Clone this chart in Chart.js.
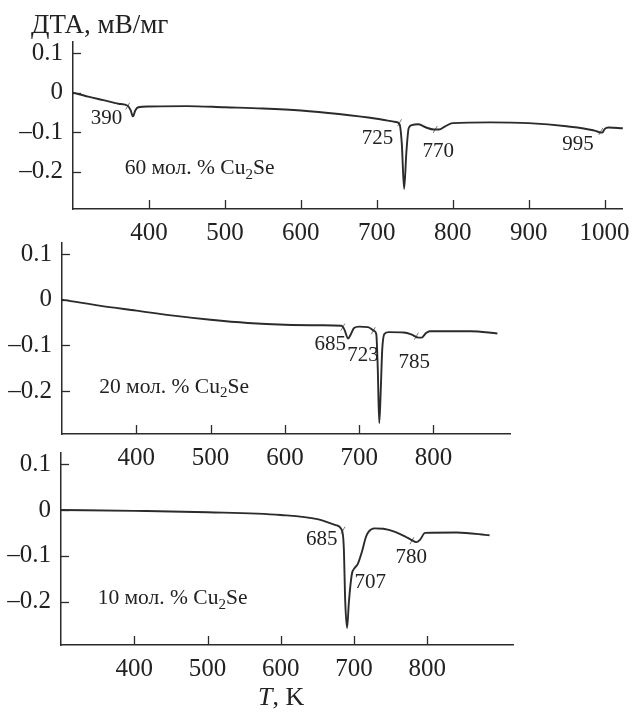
<!DOCTYPE html>
<html>
<head>
<meta charset="utf-8">
<script src="https://cdn.jsdelivr.net/npm/chart.js@4/dist/chart.umd.min.js"></script>
<style>
  body { margin: 0; background: #fff; }
  #wrap { position: relative; width: 639px; height: 712px; font-family: "Liberation Serif", serif; color: #222; }
  canvas { position: absolute; left: 0; top: 0; }
  .lbl { position: absolute; line-height: 1; white-space: nowrap; }
</style>
</head>
<body>
<div id="wrap">
  <canvas id="c1" width="639" height="712"></canvas>
  <canvas id="c2" width="639" height="712"></canvas>
  <canvas id="c3" width="639" height="712"></canvas>
  <div class="lbl" style="left:31px; top:11px; font-size:27px;">ДТА, мВ/мг</div>
  <div class="lbl" style="left:258px; top:684px; font-size:26px;"><i>T</i>, K</div>
</div>
<script>
// 60 mol. % Cu2Se
var temp60 = [300, 320, 340, 360, 372, 376, 379, 382, 386, 400, 450, 500, 550, 600, 650, 700, 725, 730, 733, 736, 739, 742, 746, 755, 765, 775, 782, 790, 800, 850, 900, 950, 985, 993, 997, 1000, 1005, 1024];
var dta60  = [0, -0.01, -0.019, -0.028, -0.033, -0.045, -0.06, -0.045, -0.037, -0.035, -0.034, -0.037, -0.04, -0.045, -0.054, -0.066, -0.074, -0.08, -0.13, -0.243, -0.15, -0.09, -0.082, -0.08, -0.088, -0.093, -0.093, -0.085, -0.077, -0.075, -0.077, -0.085, -0.095, -0.1, -0.101, -0.092, -0.088, -0.09];
var peaks60 = ['390', '725', '770', '995'];
var peakT60 = [372, 730, 777, 995];
var peakY60 = [-0.034, -0.076, -0.093, -0.098];

// 20 mol. % Cu2Se
var temp20 = [300, 350, 400, 450, 500, 550, 600, 650, 676, 680, 685, 689, 693, 700, 712, 720, 723, 725, 727, 729, 731, 734, 740, 760, 770, 780, 784, 790, 795, 850, 886];
var dta20  = [0, -0.013, -0.024, -0.035, -0.044, -0.051, -0.055, -0.056, -0.057, -0.065, -0.085, -0.075, -0.062, -0.059, -0.06, -0.068, -0.075, -0.15, -0.27, -0.2, -0.11, -0.075, -0.071, -0.072, -0.076, -0.083, -0.083, -0.073, -0.069, -0.069, -0.074];
var peaks20 = ['685', '723', '785'];
var peakT20 = [678, 719, 777];
var peakY20 = [-0.06, -0.068, -0.08];

// 10 mol. % Cu2Se
var temp10 = [300, 400, 500, 600, 650, 675, 683, 686, 688, 690.5, 693, 697, 701, 705, 711, 716, 720, 728, 740, 755, 770, 778, 785, 790, 797, 840, 885];
var dta10  = [0, -0.002, -0.005, -0.011, -0.02, -0.033, -0.043, -0.08, -0.2, -0.257, -0.2, -0.14, -0.126, -0.118, -0.09, -0.06, -0.047, -0.04, -0.041, -0.047, -0.058, -0.065, -0.07, -0.065, -0.05, -0.049, -0.055];
var peaks10 = ['685', '707', '780'];
var peakT10 = [685, 704, 779];
var peakY10 = [-0.044, -0.12, -0.067];

var yTicks = [-0.2, -0.1, 0, 0.1];
var xTicksWide = [400, 500, 600, 700, 800, 900, 1000];
var xTicksNarrow = [400, 500, 600, 700, 800];

var INK = '#2b2b2b';
var FONT = '"Liberation Serif", serif';

function fmtY(v) {
  if (Math.abs(v) < 1e-9) return '0';
  return (v < 0 ? '\u2013' : '') + Math.abs(v).toFixed(1);
}

// inward ticks + text annotations
var decor = {
  id: 'decor',
  afterDraw: function(chart) {
    var o = chart.options.plugins.decor;
    var ctx = chart.ctx, xs = chart.scales.x, ys = chart.scales.y, a = chart.chartArea;
    ctx.save();
    ctx.strokeStyle = INK;
    ctx.lineWidth = 1.3;
    xs.ticks.forEach(function(t) {
      var px = Math.round(xs.getPixelForValue(t.value)) + 0.5;
      ctx.beginPath(); ctx.moveTo(px, a.bottom); ctx.lineTo(px, a.bottom - 9); ctx.stroke();
    });
    ys.ticks.forEach(function(t) {
      var py = Math.round(ys.getPixelForValue(t.value)) + 0.5;
      ctx.beginPath(); ctx.moveTo(a.left, py); ctx.lineTo(a.left + 8, py); ctx.stroke();
    });
    ctx.fillStyle = '#222';
    ctx.textAlign = 'center';
    ctx.textBaseline = 'middle';
    ctx.font = '21px ' + FONT;
    o.labels.forEach(function(l) {
      ctx.fillText(l.text, xs.getPixelForValue(l.x), ys.getPixelForValue(l.y));
    });
    // caption with subscript
    var cx = xs.getPixelForValue(o.caption.x), cy = ys.getPixelForValue(o.caption.y);
    ctx.textAlign = 'left';
    ctx.font = '21.5px ' + FONT;
    var s1 = o.caption.text + ' мол. % Cu';
    ctx.fillText(s1, cx, cy);
    cx += ctx.measureText(s1).width;
    ctx.font = '15px ' + FONT;
    ctx.fillText('2', cx, cy + 6);
    cx += ctx.measureText('2').width;
    ctx.font = '21.5px ' + FONT;
    ctx.fillText('Se', cx, cy);
    ctx.restore();
  }
};

function makePanel(id, temps, vals, pT, pY, xmin, xmax, ymax, xticks, area, labels, caption) {
  var line = temps.map(function(t, i) { return { x: t, y: vals[i] }; });
  var marks = pT.map(function(t, i) { return { x: t, y: pY[i] }; });
  var H = 712, W = 639;
  new Chart(document.getElementById(id).getContext('2d'), {
    type: 'line',
    data: {
      datasets: [
        {
          data: line,
          borderColor: INK,
          borderWidth: 1.9,
          pointRadius: 0,
          cubicInterpolationMode: 'monotone',
          fill: false,
          clip: false
        },
        {
          type: 'scatter',
          data: marks,
          pointStyle: 'line',
          rotation: -60,
          pointRadius: 4,
          borderColor: '#777',
          borderWidth: 1,
          showLine: false
        }
      ]
    },
    options: {
      responsive: false,
      animation: false,
      layout: { padding: { top: area.top, right: W - area.right, left: 0, bottom: 0 } },
      plugins: {
        legend: { display: false },
        tooltip: { enabled: false },
        decor: { labels: labels, caption: caption }
      },
      scales: {
        x: {
          type: 'linear',
          min: xmin, max: xmax,
          afterBuildTicks: function(s) { s.ticks = xticks.map(function(v) { return { value: v }; }); },
          afterFit: function(s) { s.height = H - area.bottom; },
          grid: { display: false, drawTicks: false },
          border: { display: true, color: INK, width: 1.5 },
          ticks: { padding: 9, color: '#222', font: { family: FONT, size: 25 }, maxRotation: 0, callback: function(v) { return String(v); } }
        },
        y: {
          type: 'linear',
          min: -0.294, max: ymax,
          afterBuildTicks: function(s) { s.ticks = yTicks.map(function(v) { return { value: v }; }); },
          afterFit: function(s) { s.width = area.left; },
          grid: { display: false, drawTicks: false },
          border: { display: true, color: INK, width: 1.5 },
          ticks: { padding: 10, color: '#222', font: { family: FONT, size: 25 }, callback: function(v) { return fmtY(v); } }
        }
      }
    },
    plugins: [decor]
  });
}

makePanel('c1', temp60, dta60, peakT60, peakY60, 300, 1024, 0.128, xTicksWide,
  { left: 73, right: 627, top: 42, bottom: 209 },
  [ { text: '390', x: 344, y: -0.066 }, { text: '725', x: 701, y: -0.117 },
    { text: '770', x: 781, y: -0.148 }, { text: '995', x: 965, y: -0.130 } ],
  { text: '60', x: 368, y: -0.192 });

makePanel('c2', temp20, dta20, peakT20, peakY20, 300, 903, 0.124, xTicksNarrow,
  { left: 62, right: 510, top: 243, bottom: 434 },
  [ { text: '685', x: 661, y: -0.099 }, { text: '723', x: 705, y: -0.123 },
    { text: '785', x: 774, y: -0.137 } ],
  { text: '20', x: 350, y: -0.191 });

makePanel('c3', temp10, dta10, peakT10, peakY10, 300, 917, 0.124, xTicksNarrow,
  { left: 61, right: 513, top: 453, bottom: 645 },
  [ { text: '685', x: 656, y: -0.065 }, { text: '707', x: 722, y: -0.158 },
    { text: '780', x: 778, y: -0.104 } ],
  { text: '10', x: 350, y: -0.193 });
</script>
</body>
</html>
